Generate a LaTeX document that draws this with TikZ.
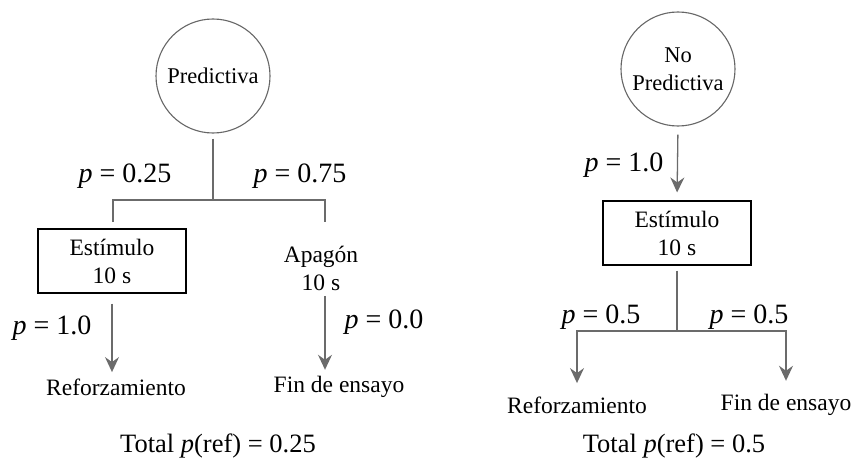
\documentclass[tikz,border=0pt]{standalone}
\usepackage{fontspec}
\setmainfont{Liberation Serif}
\usetikzlibrary{
  	positioning,
  	arrows.meta,
  	calc
  }
\tikzstyle{cue}=[circle,draw=black!60,line width=1.1pt,minimum size=114pt,inner sep=0pt,align=center,font=\fontsize{22.5}{28}\selectfont]
\tikzstyle{event}=[rectangle,draw=black,line width=1.1pt,minimum width=148pt,minimum height=64pt,align=center,font=\fontsize{23.5}{28}\selectfont]
\tikzstyle{prob}=[font=\fontsize{28}{30}\selectfont]
\tikzstyle{outcome}=[align=center,font=\fontsize{23.5}{28}\selectfont]
\tikzstyle{total}=[font=\fontsize{26.5}{30}\selectfont]
\tikzstyle{branch}=[draw=black!58,line width=1.3pt]
\tikzstyle{flow}=[branch,-{Stealth[length=15pt,width=14pt,inset=5pt]}]

\begin{document}
\begin{tikzpicture}[x=1pt,y=-1pt]
  	\useasboundingbox (0,0) rectangle (856,460);
  	% predictiva
  	\node[cue] (pred) at (213,76) {Predictiva};
  	\coordinate (split) at (213,200);
  	\coordinate (legl) at (113,222);
  	\coordinate (legr) at (325,222);
  	\node[event] (est) at (112,261) {Estímulo\\10 s};
  	\node[outcome] (apag) at (321,268) {Apagón\\10 s};
  	\node[outcome] (ref) at (116,387) {Reforzamiento};
  	\node[outcome] (fin) at (339,387) {Fin de ensayo};
  	\node[prob] at (125,176) {\textit{p} = 0.25};
  	\node[prob] at (300,176) {\textit{p} = 0.75};
  	\node[prob] at (52,328) {\textit{p} = 1.0};
  	\node[prob] at (384,322) {\textit{p} = 0.0};
  	\node[total] (totala) at (218,446) {Total \textit{p}(ref) = 0.25};
  	\draw[branch, shorten <=5pt] (pred.south) -- (split);
  	\draw[branch] (legl) |- (split) -| (legr);
  	\draw[flow, shorten <=10pt, shorten >=3pt] (est.south) -- (est.south |- ref.north);
  	\draw[flow, shorten <=2pt, shorten >=3pt] (apag.south -| legr) -- (legr |- fin.north);
  	% no predictiva
  	\node[cue] (nopred) at (678,69) {No\\Predictiva};
  	\node[event] (est2) at (677,233) {Estímulo\\10 s};
  	\coordinate (split2) at (677,331);
  	\node[outcome] (ref2) at (577,405) {Reforzamiento};
  	\node[outcome] (fin2) at (786,405) {Fin de ensayo};
  	\node[prob] at (624,165) {\textit{p} = 1.0};
  	\node[prob] at (601,317) {\textit{p} = 0.5};
  	\node[prob] at (749,317) {\textit{p} = 0.5};
  	\node[total] (totalb) at (674,446) {Total \textit{p}(ref) = 0.5};
  	\draw[flow, shorten <=8pt, shorten >=8pt] (nopred.south) -- (est2.north);
  	\draw[branch, shorten <=5pt] (est2.south) -- (split2);
  	\draw[flow, shorten >=10pt] (split2) -| (ref2.north);
  	\draw[flow, shorten >=10pt] (split2) -| (fin2.north);
\end{tikzpicture}
\end{document}
